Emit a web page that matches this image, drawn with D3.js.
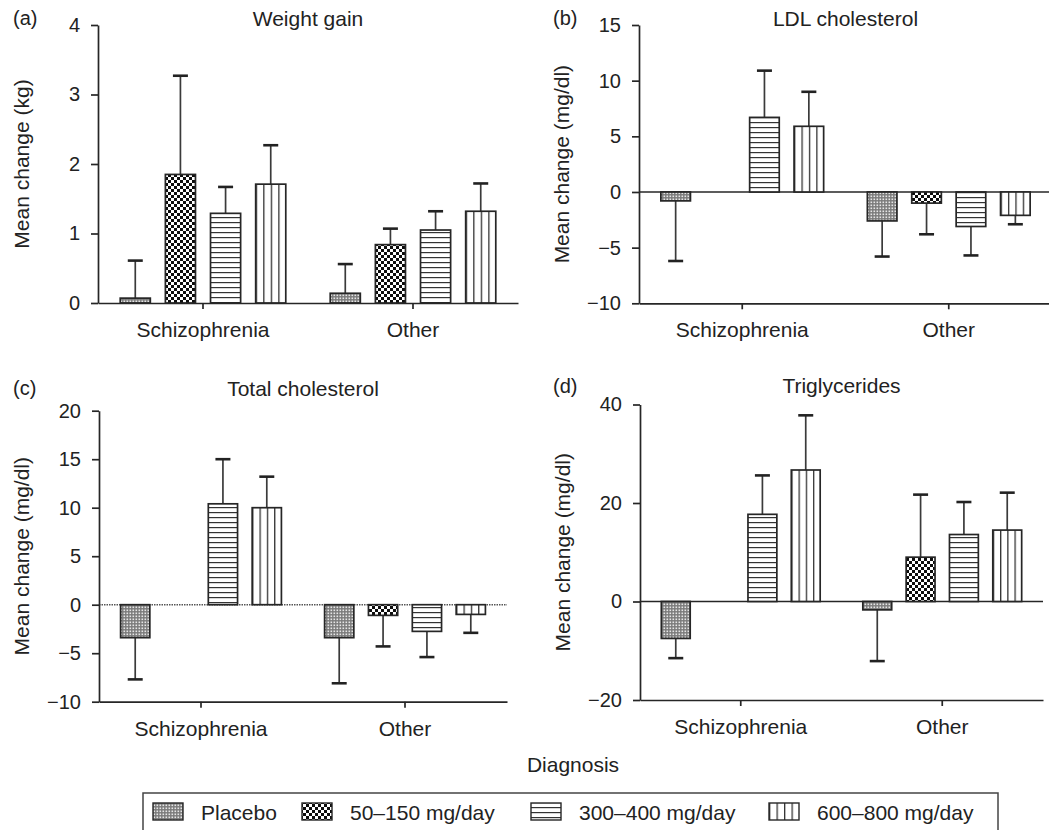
<!DOCTYPE html>
<html><head><meta charset="utf-8">
<script src="https://cdn.jsdelivr.net/npm/d3@7"></script>
<style>
body{margin:0;background:#fff}
text{font-family:"Liberation Sans",Arial,Helvetica,sans-serif;fill:#222}
</style>
</head><body>
<svg id="c" width="1049" height="830"></svg>
<script>
// ---------------- DATA ----------------
const categories = ["Schizophrenia", "Other"];
const series = ["Placebo", "50–150 mg/day", "300–400 mg/day", "600–800 mg/day"];
const panelTitles = ["Weight gain", "LDL cholesterol", "Total cholesterol", "Triglycerides"];
const panelLetters = ["(a)", "(b)", "(c)", "(d)"];
const yTitles = ["Mean change (kg)", "Mean change (mg/dl)", "Mean change (mg/dl)", "Mean change (mg/dl)"];
const yDomains = [[0, 4], [-10, 15], [-10, 20], [-20, 40]];
const yTicks = [[0, 1, 2, 3, 4], [-10, -5, 0, 5, 10, 15], [-10, -5, 0, 5, 10, 15, 20], [-20, 0, 20, 40]];
const xLabel = "Diagnosis";

// rows = categories, columns = series (null = no bar)
const weightMean = [[0.07, 1.85, 1.29, 1.71], [0.14, 0.84, 1.05, 1.32]];
const weightErr  = [[0.54, 1.42, 0.38, 0.56], [0.42, 0.23, 0.27, 0.40]];
const ldlMean    = [[-0.8, null, 6.7, 5.9], [-2.6, -1.0, -3.1, -2.1]];
const ldlErr     = [[5.4, null, 4.2, 3.1], [3.2, 2.8, 2.6, 0.8]];
const totalMean  = [[-3.4, null, 10.4, 10.0], [-3.4, -1.1, -2.75, -1.0]];
const totalErr   = [[4.3, null, 4.6, 3.2], [4.7, 3.2, 2.65, 1.9]];
const trigMean   = [[-7.5, null, 17.7, 26.7], [-1.7, 9.0, 13.6, 14.5]];
const trigErr    = [[4.0, null, 7.9, 11.1], [10.4, 12.7, 6.6, 7.6]];

const means = [weightMean, ldlMean, totalMean, trigMean];
const errs = [weightErr, ldlErr, totalErr, trigErr];

// ---------------- LAYOUT ----------------
const layout = [
  {x0: 98,  x1: 518,  yTop: 25,    yBot: 303,   titleY: 26,  letterX: 13,  letterY: 25,  yTitleX: 29,  zero: "axis"},
  {x0: 639, x1: 1052, yTop: 25,    yBot: 303.3, titleY: 26,  letterX: 553, letterY: 25,  yTitleX: 569, zero: "solid"},
  {x0: 99,  x1: 507,  yTop: 410.7, yBot: 701.7, titleY: 396, letterX: 13,  letterY: 395, yTitleX: 29,  zero: "dotted"},
  {x0: 640, x1: 1043, yTop: 404.5, yBot: 700,   titleY: 393, letterX: 553, letterY: 393, yTitleX: 570, zero: "solid"}
];
const FONT = 21, TICKFONT = 20;
const ink = "#262626";

const svg = d3.select("#c");
const defs = svg.append("defs");

// patterns
const pPl = defs.append("pattern").attr("id", "pat0").attr("patternUnits", "userSpaceOnUse")
  .attr("width", 3).attr("height", 3);
pPl.append("rect").attr("width", 3).attr("height", 3).attr("fill", "#7a7a7a");
pPl.append("rect").attr("x", 0.5).attr("y", 0.5).attr("width", 1.6).attr("height", 1.6).attr("fill", "#e6e6e6");

const pCk = defs.append("pattern").attr("id", "pat1").attr("patternUnits", "userSpaceOnUse")
  .attr("width", 6).attr("height", 6);
pCk.append("rect").attr("width", 6).attr("height", 6).attr("fill", "#fff");
pCk.append("rect").attr("x", 0).attr("y", 0).attr("width", 3).attr("height", 3).attr("fill", "#0d0d0d");
pCk.append("rect").attr("x", 3).attr("y", 3).attr("width", 3).attr("height", 3).attr("fill", "#0d0d0d");

const pH = defs.append("pattern").attr("id", "pat2").attr("patternUnits", "userSpaceOnUse")
  .attr("width", 10).attr("height", 5);
pH.append("rect").attr("width", 10).attr("height", 5).attr("fill", "#fff");
pH.append("rect").attr("y", 2).attr("width", 10).attr("height", 1.2).attr("fill", "#333");

const pV = defs.append("pattern").attr("id", "pat3").attr("patternUnits", "objectBoundingBox")
  .attr("width", 0.25).attr("height", 1);
pV.append("rect").attr("width", 100).attr("height", 3000).attr("fill", "#fff");
pV.append("rect").attr("x", 0).attr("width", 1.3).attr("height", 3000).attr("fill", "#333");

const fills = ["url(#pat0)", "url(#pat1)", "url(#pat2)", "url(#pat3)"];
const fmt = d => d < 0 ? "\u2212" + Math.abs(d) : String(d);

layout.forEach((L, p) => {
  const g = svg.append("g");
  const x = d3.scaleBand().domain(categories).range([L.x0, L.x1]).padding(0);
  const bw = x.bandwidth();
  const xi = d3.scaleBand().domain(series).range([-0.43 * bw, 0.43 * bw])
    .paddingInner(1 / 3).paddingOuter(1 / 6);
  const y = d3.scaleLinear().domain(yDomains[p]).range([L.yBot, L.yTop]);

  // zero line
  if (L.zero !== "axis") {
    g.append("line").attr("x1", L.x0).attr("x2", L.x1).attr("y1", y(0)).attr("y2", y(0))
      .attr("stroke", L.zero === "dotted" ? "#555" : ink)
      .attr("stroke-width", L.zero === "dotted" ? 1.6 : 1.5)
      .attr("stroke-dasharray", L.zero === "dotted" ? "1.5,1" : null);
  }

  const recs = [];
  categories.forEach((c, ci) => series.forEach((s, si) => {
    const v = means[p][ci][si];
    if (v === null) return;
    recs.push({c, s, si, v, e: errs[p][ci][si]});
  }));

  // error bars
  const eg = g.append("g").attr("stroke", "#3a3a3a");
  recs.forEach(d => {
    const cx = x(d.c) + bw / 2 + xi(d.s) + xi.bandwidth() / 2;
    const end = d.v >= 0 ? d.v + d.e : d.v - d.e;
    eg.append("line").attr("x1", cx).attr("x2", cx).attr("y1", y(d.v)).attr("y2", y(end))
      .attr("stroke-width", 1.7);
    eg.append("line").attr("x1", cx - 7.5).attr("x2", cx + 7.5).attr("y1", y(end)).attr("y2", y(end))
      .attr("stroke-width", 2.6).attr("stroke", "#222");
  });

  g.append("g").selectAll("rect").data(recs).join("rect")
    .attr("x", d => x(d.c) + bw / 2 + xi(d.s))
    .attr("width", xi.bandwidth())
    .attr("y", d => Math.min(y(0), y(d.v)))
    .attr("height", d => Math.abs(y(d.v) - y(0)))
    .attr("fill", d => fills[d.si])
    .attr("stroke", ink).attr("stroke-width", 1.7);

  // axes
  const ya = g.append("g").attr("transform", `translate(${L.x0},0)`)
    .call(d3.axisLeft(y).tickValues(yTicks[p]).tickFormat(fmt).tickSize(7).tickPadding(11).tickSizeOuter(0));
  const xa = g.append("g").attr("transform", `translate(0,${L.yBot})`)
    .call(d3.axisBottom(x).tickSize(6).tickPadding(13).tickSizeOuter(0));
  [ya, xa].forEach(a => {
    a.attr("font-family", null).attr("font-size", null);
    a.selectAll("path,line").attr("stroke", ink).attr("stroke-width", 1.7);
    a.selectAll("text").attr("fill", "#222");
  });
  ya.selectAll("text").style("font-size", TICKFONT + "px");
  xa.selectAll("text").style("font-size", FONT + "px");

  // titles
  g.append("text").attr("x", (L.x0 + L.x1) / 2).attr("y", L.titleY).attr("text-anchor", "middle")
    .style("font-size", FONT + "px").text(panelTitles[p]);
  g.append("text").attr("x", L.letterX).attr("y", L.letterY)
    .style("font-size", "20px").text(panelLetters[p]);
  g.append("text").attr("transform", `translate(${L.yTitleX},${(L.yTop + L.yBot) / 2}) rotate(-90)`)
    .attr("text-anchor", "middle").style("font-size", FONT + "px").text(yTitles[p]);
});

svg.append("text").attr("x", 573).attr("y", 772).attr("text-anchor", "middle")
  .style("font-size", FONT + "px").text(xLabel);

// legend
const legX = [153, 302, 531, 769];
const lg = svg.append("g");
lg.append("rect").attr("x", 143).attr("y", 793).attr("width", 855).attr("height", 60)
  .attr("fill", "#fff").attr("stroke", "#444").attr("stroke-width", 1.5);
series.forEach((s, i) => {
  lg.append("rect").attr("x", legX[i]).attr("y", 803).attr("width", 30).attr("height", 17)
    .attr("fill", fills[i]).attr("stroke", ink).attr("stroke-width", 1.4);
  lg.append("text").attr("x", legX[i] + 48).attr("y", 820).style("font-size", FONT + "px").text(s);
});
</script>
</body></html>
